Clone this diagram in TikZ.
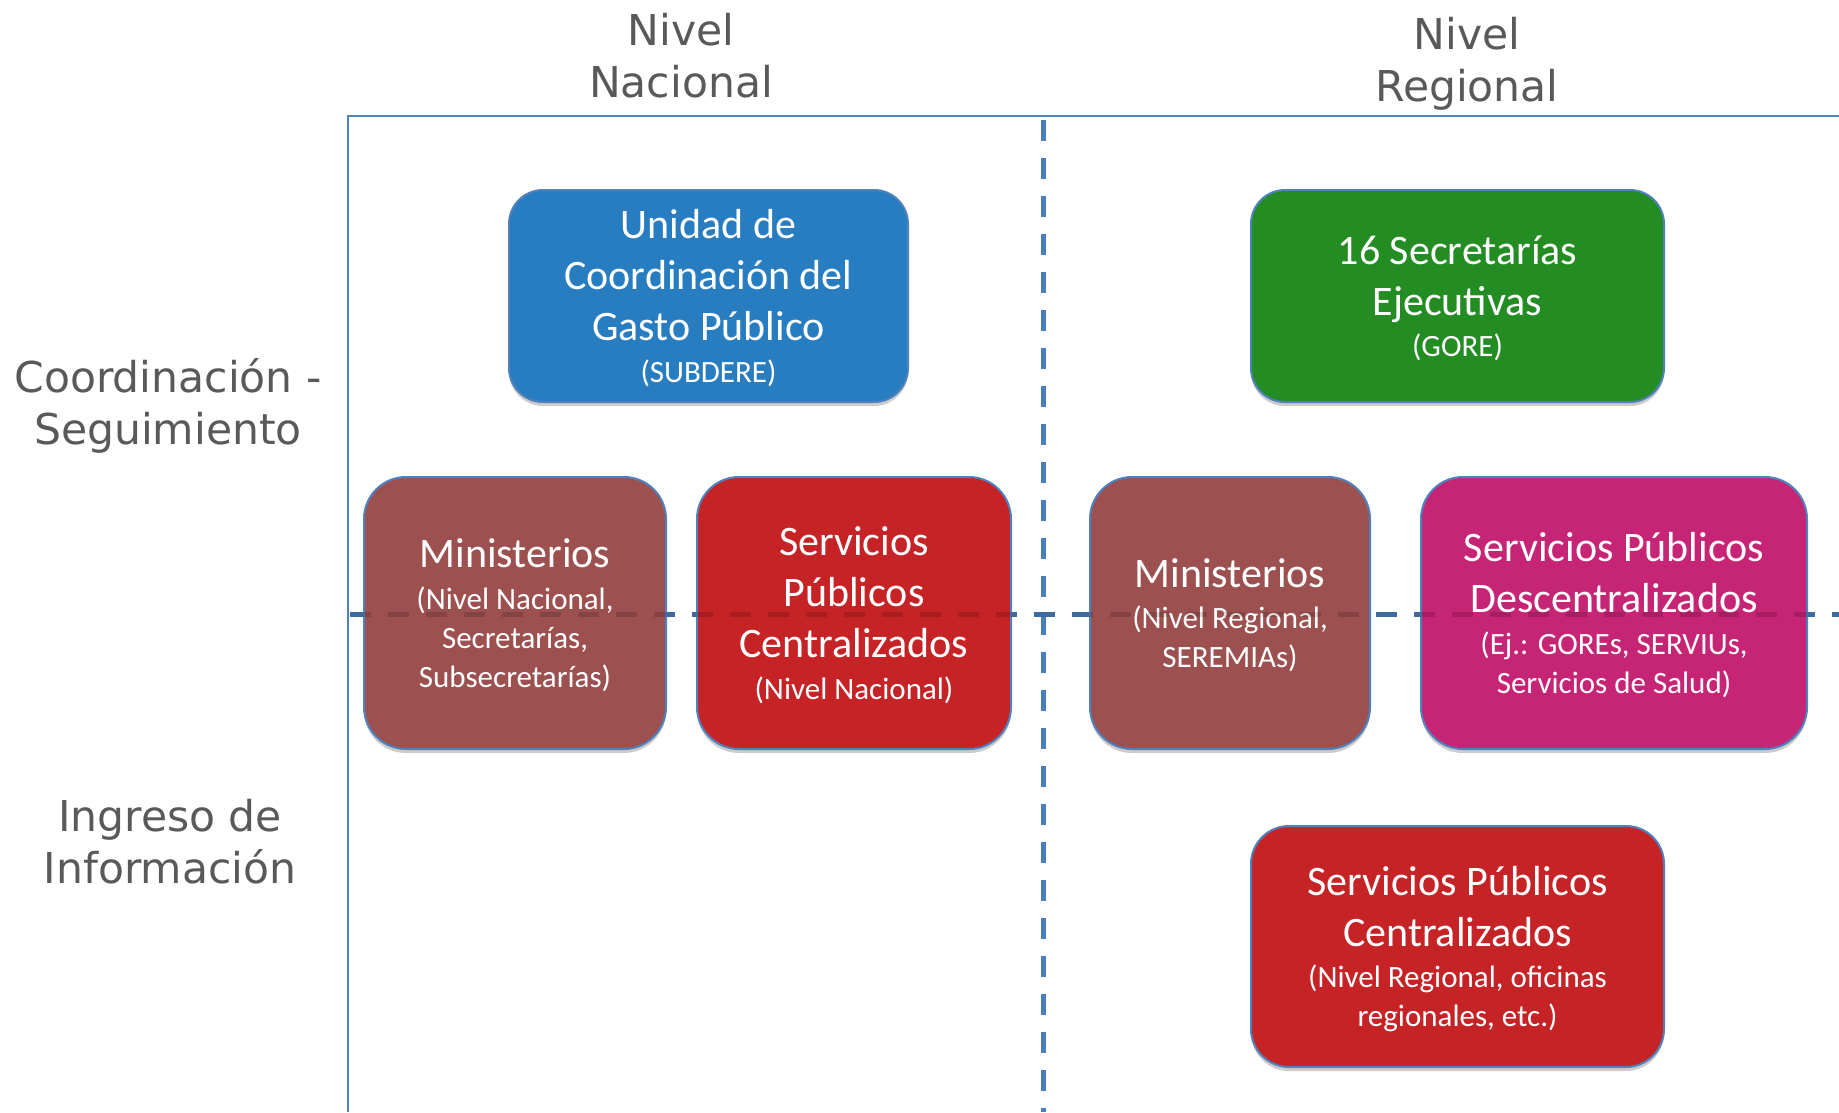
\documentclass[tikz,border=0pt]{standalone}
\usepackage{fontspec}
\setmainfont{Carlito}
\newfontfamily\grisfont{DejaVu Sans}
\usetikzlibrary{shadows}

\definecolor{lineablue}{RGB}{74,126,187}
\definecolor{bordeblue}{RGB}{79,129,189}
\definecolor{gristxt}{RGB}{89,89,89}
\definecolor{azulsub}{RGB}{40,125,192}
\definecolor{verdegore}{RGB}{35,140,35}
\definecolor{cafemin}{RGB}{157,80,80}
\definecolor{rojospc}{RGB}{197,35,38}
\definecolor{magentaspd}{RGB}{198,36,117}

\newcommand\subtxt{\fontsize{31}{31}\selectfont}

\tikzset{
  titulo/.style={text=gristxt, align=center, font=\grisfont\fontsize{42.5}{52}\selectfont},
  caja/.style={rectangle, draw=bordeblue, line width=2pt, text=white, align=center,
    inner sep=0pt, outer sep=0pt, text depth=-10pt, font=\fontsize{42}{51}\selectfont,
    drop shadow={shadow xshift=0pt, shadow yshift=-4pt, opacity=0.2, fill=black}},
  divisor/.style={lineablue, line width=5pt, dash pattern=on 21pt off 17pt}
}

\begin{document}
\begin{tikzpicture}[x=1pt,y=-1pt]
\useasboundingbox (0,0) rectangle (1839,1112);

\draw [bordeblue, line width=2pt] (1839,116) -- (348,116) -- (348,1112) ;
\coordinate (vtop) at (1043,120) ;
\coordinate (vbot) at (1043,1112) ;
\coordinate (hizq) at (350,614) ;
\coordinate (hder) at (1839,614) ;
\draw [divisor] (vtop) -- (vbot) ;
\draw [divisor] (hizq) -- (hder) ;

\node [titulo] (nacional) at (681,56) {Nivel\\Nacional} ;
\node [titulo] (regional) at (1467,64) {Nivel\\Regional} ;
\node [titulo] (coord) at (168,405.5) {Coordinación -\\Seguimiento} ;
\node [titulo] (ingreso) at (170,842) {Ingreso de\\Información} ;

\node [caja, fill=azulsub, rounded corners=34pt, minimum width=399pt, minimum height=212pt] (subdere) at (708.5,296)
  {Unidad de\\Coordinación del\\Gasto Público\\[-9.5pt]{\subtxt (SUBDERE)}} ;
\node [caja, fill=verdegore, rounded corners=34pt, minimum width=413pt, minimum height=212pt] (gore) at (1457.5,296)
  {16 Secretarías\\Ejecutivas\\[-9.5pt]{\subtxt (GORE)}} ;
\node [caja, fill=cafemin, rounded corners=42pt, minimum width=302pt, minimum height=272pt] (minnac) at (515,613)
  {Ministerios\\[-9.5pt]{\subtxt (Nivel Nacional,}\\[-12pt]{\subtxt Secretarías,}\\[-12pt]{\subtxt Subsecretarías)}} ;
\node [caja, fill=rojospc, rounded corners=42pt, minimum width=314pt, minimum height=272pt] (spcnac) at (854,613)
  {Servicios\\Públicos\\Centralizados\\[-9.5pt]{\subtxt (Nivel Nacional)}} ;
\node [caja, fill=cafemin, rounded corners=42pt, minimum width=280pt, minimum height=272pt] (minreg) at (1230,613)
  {Ministerios\\[-9.5pt]{\subtxt (Nivel Regional,}\\[-12pt]{\subtxt SEREMIAs)}} ;
\node [caja, fill=magentaspd, rounded corners=42pt, minimum width=386pt, minimum height=272pt] (spd) at (1614,613)
  {Servicios Públicos\\Descentralizados\\[-9.5pt]{\subtxt (Ej.: GOREs, SERVIUs,}\\[-12pt]{\subtxt Servicios de Salud)}} ;
\node [caja, fill=rojospc, rounded corners=38pt, minimum width=413pt, minimum height=241pt] (spcreg) at (1457.5,946.5)
  {Servicios Públicos\\Centralizados\\[-9.5pt]{\subtxt (Nivel Regional, oficinas}\\[-12pt]{\subtxt regionales, etc.)}} ;

\draw [divisor, black, opacity=0.15] (hizq) -- (hder) ;

\end{tikzpicture}
\end{document}
